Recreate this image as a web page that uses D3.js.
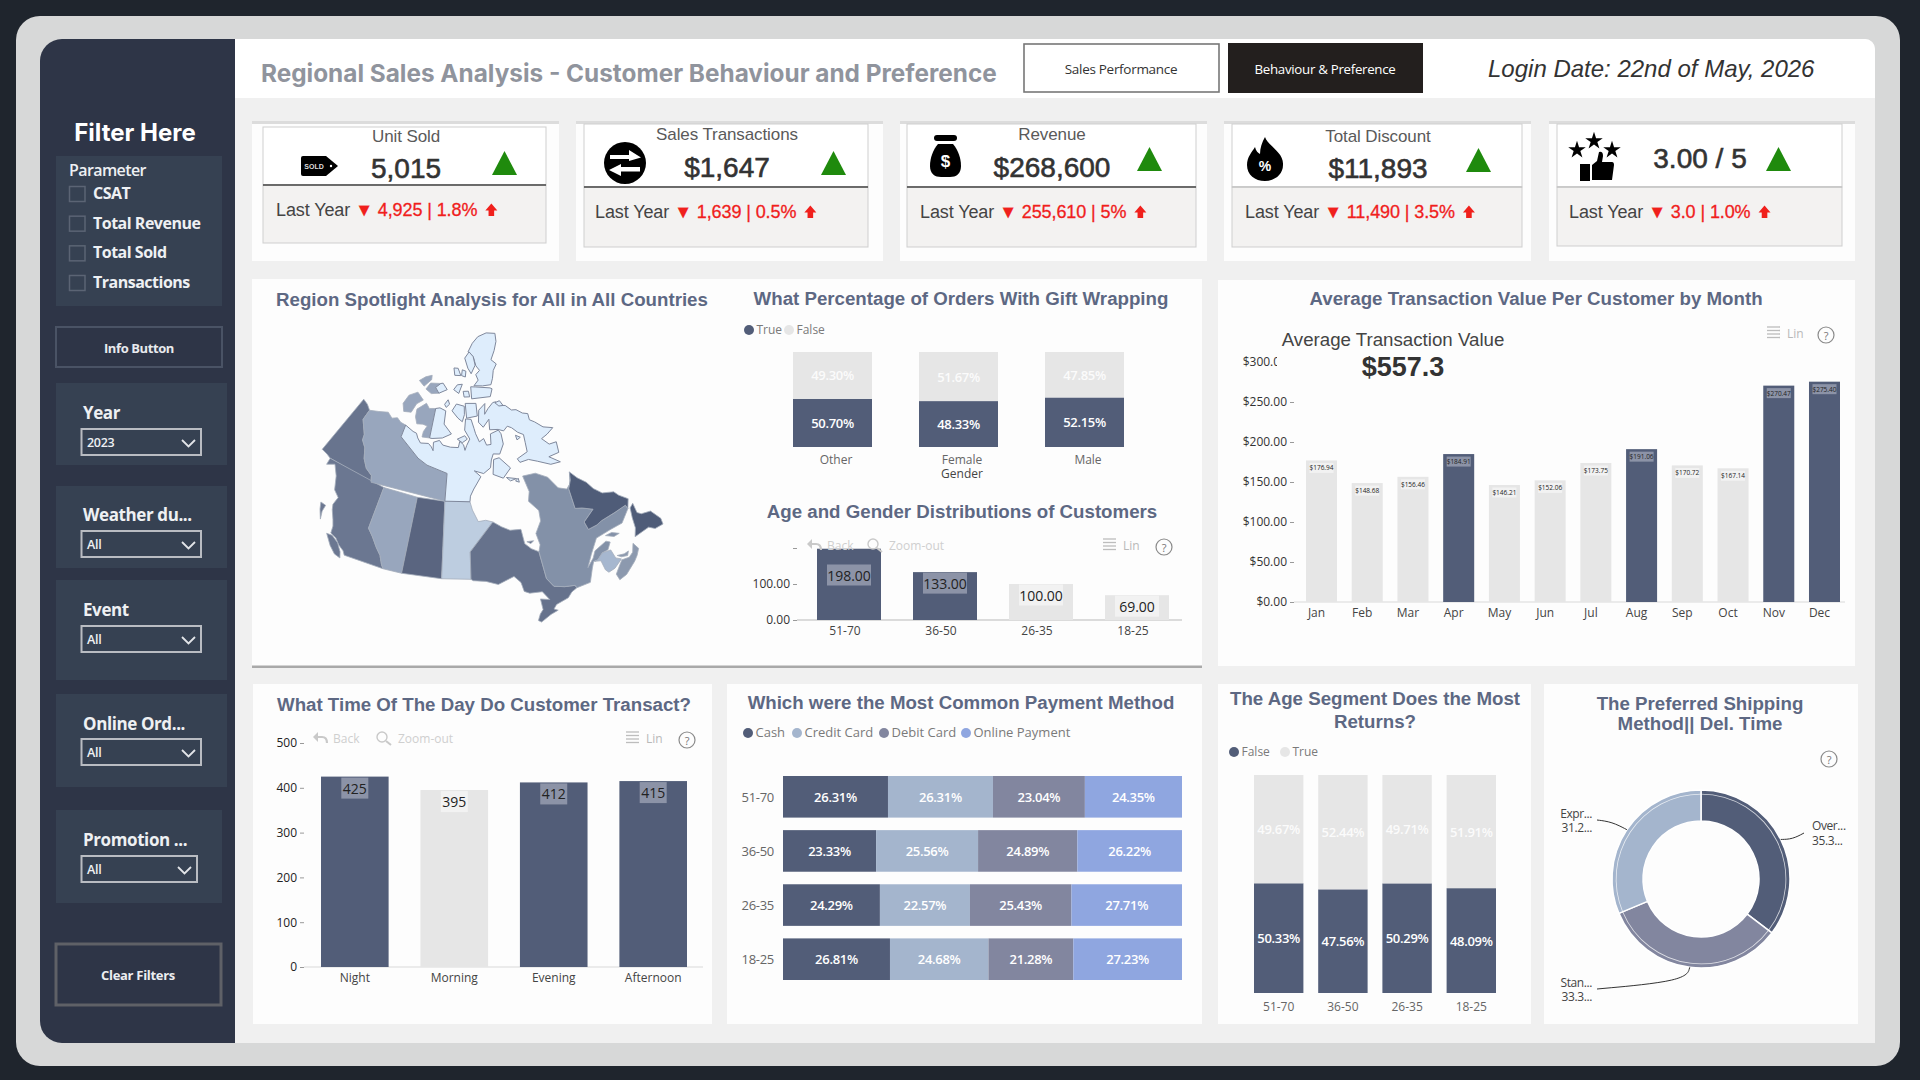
<!DOCTYPE html>
<html lang="en">
<head>
<meta charset="utf-8">
<title>Regional Sales Analysis</title>
<script src="https://cdn.jsdelivr.net/npm/d3@7/dist/d3.min.js"></script>
<style>
  html, body { margin: 0; padding: 0; background: #1f252d; }
  svg { display: block; }
  text { font-family: "Liberation Sans", "DejaVu Sans", sans-serif; }
  .ui text, text.ui { font-family: "Open Sans", "Noto Sans", sans-serif; }
</style>
</head>
<body>
<script>
// ---- KPI values -----------------------------------------------------------
const kpiTitles = ["Unit Sold", "Sales Transactions", "Revenue", "Total Discount", ""];
const kpiValues = ["5,015", "$1,647", "$268,600", "$11,893", "3.00 / 5"];
const kpiLastYear = ["4,925", "1,639", "255,610", "11,490", "3.0"];
const kpiChange = ["1.8%", "0.5%", "5%", "3.5%", "1.0%"];

// ---- Filter pane ----------------------------------------------------------
const parameterOptions = ["CSAT", "Total Revenue", "Total Sold", "Transactions"];
const slicerNames = ["Year", "Weather du...", "Event", "Online Ord...", "Promotion ..."];
const slicerChoices = ["2023", "All", "All", "All", "All"];

// ---- Gift wrapping by gender ----------------------------------------------
const genders = ["Other", "Female", "Male"];
const giftTrue = [50.70, 48.33, 52.15];
const giftFalse = [49.30, 51.67, 47.85];

// ---- Customers by age -----------------------------------------------------
const ageBands = ["51-70", "36-50", "26-35", "18-25"];
const customersByAge = [198, 133, 100, 69];

// ---- Average transaction value per month ---------------------------------
const months = ["Jan", "Feb", "Mar", "Apr", "May", "Jun", "Jul", "Aug", "Sep", "Oct", "Nov", "Dec"];
const monthlyValue = [176.94, 148.68, 156.46, 184.91, 146.21, 152.06, 173.75, 191.06, 170.72, 167.14, 270.47, 275.40];

// ---- Transactions by time of day ------------------------------------------
const dayParts = ["Night", "Morning", "Evening", "Afternoon"];
const transactionsByPart = [425, 395, 412, 415];

// ---- Payment method share by age ------------------------------------------
const paymentMethods = ["Cash", "Credit Card", "Debit Card", "Online Payment"];
const payCash = [26.31, 23.33, 24.29, 26.81];
const payCredit = [26.31, 25.56, 22.57, 24.68];
const payDebit = [23.04, 24.89, 25.43, 21.28];
const payOnline = [24.35, 26.22, 27.71, 27.23];

// ---- Returns by age -------------------------------------------------------
const returnFalse = [50.33, 47.56, 50.29, 48.09];
const returnTrue = [49.67, 52.44, 49.71, 51.91];

// ---- Shipping mix ---------------------------------------------------------
const shippingNames = ["Over...", "Stan...", "Expr..."];
const shippingShare = [35.34, 33.35, 31.31];
const shippingLabels = ["35.3...", "33.3...", "31.2..."];

// ---- Province outlines, longitude / latitude -----------------------------
const yukon = [[-141,69.65],[-141,60.3],[-139,60.2],[-137.6,60],[-124,60],[-124.7,60.9],[-127,61.5],[-129,62.6],[-130.5,64],[-132.5,64.8],[-133,65.6],[-136.4,67.3],[-136.4,68.9],[-138.5,69.4]];
const britishColumbia = [[-137.6,60],[-120,60],[-120,53.8],[-118.5,52.9],[-116.8,51.6],[-115.5,50.7],[-114.6,49.5],[-114.06,49],[-122.8,49],[-123.4,49.5],[-124.8,50],[-126,50.7],[-127.5,51],[-127.8,52],[-128.5,52.8],[-129.8,54],[-130.3,54.7],[-130,55.9],[-131.8,56.6],[-133.4,58.4],[-135.5,59.7],[-137.4,59]];
const vancouverIsland = [[-123.4,48.4],[-124.8,48.6],[-126.4,49.4],[-128.3,50.7],[-127,50.8],[-125.2,50.2],[-123.9,49.2]];
const haidaGwaii = [[-131.1,52],[-132.4,53.2],[-133.1,54.1],[-131.7,54.05],[-131.7,53.1]];
const alberta = [[-120,60],[-110,60],[-110,49],[-114.06,49],[-114.6,49.5],[-115.5,50.7],[-116.8,51.6],[-118.5,52.9],[-120,53.8]];
const saskatchewan = [[-110,60],[-102,60],[-101.4,49],[-110,49]];
const manitoba = [[-102,60],[-94.8,60],[-94.2,58.8],[-92.8,57.1],[-90.8,57.2],[-89,56.85],[-95.15,52.85],[-95.15,49],[-101.4,49]];
const ontario = [[-89,56.85],[-87,56],[-85,55.3],[-82.3,55.1],[-82.2,53],[-81,52.1],[-79.5,51.4],[-79.5,47.5],[-78.5,46.2],[-76.5,45.7],[-74.5,45.4],[-74.3,45],[-75.5,44.7],[-76.5,44.1],[-79,43.7],[-79.7,43.2],[-79,42.9],[-80.5,42.6],[-82.5,41.9],[-83,42.2],[-82.4,43],[-81.7,43.5],[-81.7,45],[-80,44.6],[-81,45.9],[-83.5,46.1],[-84.5,46.5],[-84.8,47.8],[-86,48.8],[-88.3,48.3],[-89.5,48],[-92,48.6],[-94.7,48.8],[-95.15,49],[-95.15,52.85]];
const quebec = [[-79.5,51.4],[-78.8,52.3],[-79,54],[-77,55.5],[-76.6,57],[-78.5,58.7],[-77.5,60],[-78,62.4],[-74,62.2],[-71,61],[-69.5,59],[-67.5,58.3],[-66,58.8],[-64.6,60.3],[-65.5,59.2],[-67,58.2],[-67.8,55.3],[-66.2,54.9],[-64,54],[-67.3,53],[-67.2,51.8],[-65,51.8],[-63.6,52],[-60,52],[-57.1,52],[-57.1,51.4],[-60,50.2],[-63,50.3],[-66.5,50.2],[-69,48.5],[-70.8,47],[-69,47.9],[-68,48.7],[-65,49.2],[-64.3,48.8],[-65.5,48],[-66.8,48],[-68.3,47.4],[-69.2,47.45],[-70,46.7],[-71.5,45],[-74.3,45],[-74.5,45.4],[-76.5,45.7],[-78.5,46.2],[-79.5,47.5]];
const anticosti = [[-64.5,49.9],[-63,49.85],[-61.7,49.2],[-63,49.2]];
const labrador = [[-64.6,60.3],[-63.5,59],[-62,57.8],[-61.3,56.5],[-60,55.3],[-57.5,54.5],[-57,53.7],[-55.7,52.5],[-57.1,51.4],[-57.1,52],[-60,52],[-63.6,52],[-65,51.8],[-67.2,51.8],[-67.3,53],[-64,54],[-66.2,54.9],[-67.8,55.3],[-67,58.2],[-65.5,59.2]];
const newfoundland = [[-59.3,47.6],[-58.2,48.6],[-57.5,50],[-56.6,51.3],[-55.5,51.6],[-56,50.2],[-55.4,49.7],[-53.5,49.2],[-52.8,47.5],[-53.2,46.7],[-55,46.9],[-55.9,47.6]];
const newBrunswick = [[-69,47.4],[-68.3,47.4],[-66.8,48],[-65,47.8],[-64.9,46.5],[-64,46],[-66,45.3],[-67.4,45.2],[-67.8,45.7],[-67.8,47.1]];
const novaScotia = [[-66.2,43.6],[-64.6,43.8],[-62,44.8],[-61,45.3],[-60,46],[-60.4,47],[-61.4,46],[-62.5,45.65],[-64,45.85],[-65,45.3],[-66.3,44.5]];
const princeEdward = [[-64.4,46.7],[-63,46.4],[-62,46.45],[-62.6,45.97],[-63.8,46.25]];
const northwest = [[-136.4,68.9],[-133,69.5],[-129.5,70.1],[-127,69.6],[-125,70],[-123,69.6],[-120.7,69.5],[-120.7,67.7],[-112.5,65.5],[-109,64.8],[-102,64],[-102,60],[-124,60],[-124.7,60.9],[-127,61.5],[-129,62.6],[-130.5,64],[-132.5,64.8],[-133,65.6],[-136.4,67.3]];
const banksIsland = [[-123.7,71.2],[-125.5,72.2],[-124.6,73.6],[-121,74.5],[-117,73.7],[-119.5,72.9],[-120.5,71.5]];
const victoriaWest = [[-110,73],[-113,72.8],[-115,73.4],[-118.5,72.2],[-118,71.1],[-116.5,70.2],[-114,70.4],[-112,70.3],[-113,69.4],[-113,68.6],[-110,68.7],[-110,70]];
const melvilleWest = [[-110,75.2],[-114,74.9],[-117.5,75.3],[-116,76.3],[-110,76.6],[-112.5,75.9]];
const princePatrick = [[-122.7,76.1],[-119,75.6],[-116,76.8],[-116.5,77.4],[-120,76.9]];
const nunavut = [[-120.7,69.5],[-117,69],[-115.5,68.9],[-114.5,68.3],[-113,67.7],[-110,67.9],[-108.7,67.5],[-107.8,67],[-108.2,68.2],[-106,68.6],[-104.5,68],[-101.5,67.8],[-98.5,67.8],[-98,68.7],[-96.5,68.2],[-96,67.4],[-95.3,68.1],[-94,69],[-96,70.3],[-95.5,71.9],[-93,71.8],[-92,70.5],[-91.5,69.7],[-90.3,68.5],[-88.5,68.9],[-87.7,67.9],[-86,67.9],[-85.5,69.4],[-82,69.7],[-81.3,69.1],[-81.4,67.6],[-83.5,66.3],[-85.8,66.5],[-86.8,65.7],[-87.5,64.6],[-90,63.9],[-93,64.4],[-91,63.5],[-92.5,62.5],[-93.5,61.8],[-94.6,60.8],[-94.8,60],[-102,60],[-102,64],[-109,64.8],[-112.5,65.5],[-120.7,67.7]];
const baffin = [[-80,73.7],[-78,73],[-76,72.8],[-74,71.9],[-72,71.7],[-70,70.9],[-68,70.5],[-68.5,69.6],[-67,69],[-65,67.8],[-62,67],[-65,66.6],[-67.5,66.4],[-66,65.2],[-63.5,65],[-64.5,63.5],[-68,63.6],[-65.5,62.2],[-68.5,62.5],[-72,63.7],[-74.5,64.4],[-77.5,64.4],[-78,65],[-74,65.5],[-73.5,66.8],[-73,68],[-74.8,68.6],[-76.5,69.5],[-78,69.9],[-80,69.4],[-82,69.8],[-85.5,70],[-85,71.5],[-88,70.5],[-89.8,71.3],[-89,73],[-85.5,73.8],[-86.5,72.3],[-84.5,73],[-81.5,73.7]];
const ellesmere = [[-90,76.5],[-85,76.3],[-80,76.2],[-78,77],[-76,78],[-72.5,78.7],[-75,79.5],[-70,80.5],[-65,81.5],[-62,82.5],[-70,83.1],[-80,83],[-87,82.3],[-92,81.2],[-88,80.5],[-87,79.2],[-85,78.5],[-88,78],[-87,77.2]];
const devon = [[-80,75.6],[-82,74.6],[-92,74.7],[-92,76.4],[-89,76.3],[-81,75.8]];
const axelHeiberg = [[-95,80.4],[-91,81.2],[-88,80.5],[-87.5,79.3],[-91,78.2],[-93,79]];
const cornwallis = [[-93,75],[-96,75],[-96.5,75.8],[-93.5,75.8]];
const bathurst = [[-97,76.8],[-99,75.5],[-102,76],[-100,76.7]];
const melvilleEast = [[-105.7,75.9],[-110,75.2],[-112.5,75.9],[-110,76.6],[-108.7,76.7]];
const ellefRingnes = [[-98,78],[-102,78],[-103,79],[-100,79]];
const amundRingnes = [[-95,77.8],[-97.5,78],[-97,78.8],[-94.5,78.6]];
const prinWales = [[-97,71.5],[-99,72],[-102,73],[-100,74],[-96,73.7],[-96,72.5]];
const somerset = [[-90,72.2],[-95,72],[-95.5,74.1],[-90,74]];
const victoriaEast = [[-105,72.9],[-108,73.2],[-110,73],[-110,70],[-110,68.7],[-109,68.7],[-105,69],[-101.5,69.7],[-105,71]];
const stefansson = [[-105,73.4],[-106,73.8],[-104.5,74.5],[-103.5,73.9]];
const southampton = [[-87,63.6],[-84,62.8],[-81,64],[-84,65.8],[-86,65.7]];
const coats = [[-83,62.8],[-80,62.3],[-82,62.2]];
const kingWilliam = [[-99,69],[-96,69.5],[-95,69],[-97,68.5]];
const princeCharles = [[-76,67.6],[-74.5,67.8],[-76,68.3]];
const bylot = [[-79,73],[-77,72.9],[-78,73.7],[-80.5,73.6]];
const mansel = [[-80.5,62],[-79.5,61.7],[-79.5,62.3]];
const akimiski = [[-81.6,53.2],[-80,53.1],[-80.8,52.8]];

// Fill of each region; Nunavut stays palest, the rest follow their totals
const PALE_REGION = "#deedfc";
const provinces = [
  { rings: [yukon], fill: "#68748e" },
  { rings: [britishColumbia, vancouverIsland, haidaGwaii], fill: "#6b7791" },
  { rings: [alberta], fill: "#98a6bd" },
  { rings: [saskatchewan], fill: "#5a6580" },
  { rings: [manitoba], fill: "#bdcde0" },
  { rings: [ontario], fill: "#66728c" },
  { rings: [quebec, anticosti], fill: "#8391a8" },
  { rings: [labrador, newfoundland], fill: "#4f5c78" },
  { rings: [newBrunswick], fill: "#a6b7cf" },
  { rings: [novaScotia, princeEdward], fill: "#8c99ae" },
  { rings: [northwest, banksIsland, victoriaWest, melvilleWest, princePatrick], fill: "#98a6bd" },
  { rings: [nunavut, baffin, ellesmere, devon, axelHeiberg, cornwallis, bathurst, melvilleEast, ellefRingnes, amundRingnes, prinWales, somerset, victoriaEast, stefansson, southampton, coats, kingWilliam, princeCharles, bylot, mansel], fill: PALE_REGION },
  { rings: [akimiski], fill: "#66728c" }
];

// ---- Palette --------------------------------------------------------------
const NAVY = "#525d78", PALE = "#e6e6e6", TITLE = "#5d6883", RED = "#f0201c", GREEN = "#1f8a0d";
const BOX_DARK = "#8c93a7", BOX_LIGHT = "#f2f2f2";
const payColors = [NAVY, "#a4b5cd", "#82869f", "#8fa6e0"];
const shipColors = [NAVY, "#82869f", "#a4b5cd"];

const svg = d3.select("body").append("svg").attr("width", 1920).attr("height", 1080);

function rect(g, x0, y0, x1, y1, fill, stroke, sw, rx) {
  return g.append("rect").attr("x", x0).attr("y", y0).attr("width", x1 - x0).attr("height", y1 - y0)
    .attr("fill", fill).attr("stroke", stroke || "none").attr("stroke-width", sw || 0).attr("rx", rx || 0);
}
function label(g, x, y, str, o = {}) {
  const t = g.append("text").attr("x", x).attr("y", y).attr("dominant-baseline", "central")
    .attr("text-anchor", o.anchor || "start").attr("font-size", o.size || 12)
    .attr("font-weight", o.weight || 400).attr("fill", o.fill || "#444").text(str);
  if (o.family) t.style("font-family", o.family);
  if (o.italic) t.attr("font-style", "italic");
  if (o.spacing) t.attr("letter-spacing", o.spacing);
  if (o.wordSpacing) t.attr("word-spacing", o.wordSpacing);
  return t;
}
const UI = '"Open Sans", "Noto Sans", sans-serif';
const INTER = 'Inter, "Liberation Sans", sans-serif';

// ---- Frame ----------------------------------------------------------------
rect(svg, 0, 0, 1920, 1080, "#1f252d");
rect(svg, 16, 16, 1900, 1066, "#d7d8d8", null, 0, 24);
svg.append("path").attr("fill", "#f0f0f0")
  .attr("d", "M235,39 H1865 a10,10 0 0 1 10,10 V1043 H235 Z");
svg.append("path").attr("fill", "#ffffff")
  .attr("d", "M235,39 H1865 a10,10 0 0 1 10,10 V98 H235 Z");
svg.append("path").attr("fill", "#2e3547")
  .attr("d", "M62,39 H235 V1043 H62 a22,22 0 0 1 -22,-22 V61 a22,22 0 0 1 22,-22 Z");

// ---- Header ---------------------------------------------------------------
label(svg, 261, 73, "Regional Sales Analysis - Customer Behaviour and Preference",
  { size: 24.35, weight: 700, fill: "#90949d", family: INTER });
rect(svg, 1024, 44, 1219, 92, "#fff", "#777", 1.6);
label(svg, 1121, 69, "Sales Performance", { size: 13.5, anchor: "middle", fill: "#333", family: UI, spacing: -0.3 });
rect(svg, 1228, 43, 1423, 93, "#231f1e");
label(svg, 1325, 69, "Behaviour & Preference", { size: 13.3, anchor: "middle", fill: "#fff", family: UI, spacing: -0.3 });
label(svg, 1488, 68, "Login Date: 22nd of May, 2026", { size: 24, italic: true, fill: "#333" });

// ---- Filter pane ----------------------------------------------------------
const pane = svg.append("g");
label(pane, 135, 132, "Filter Here", { size: 24, weight: 700, fill: "#fff", anchor: "middle", family: INTER });
rect(pane, 56, 156, 222, 306, "#364152");
label(pane, 69, 170, "Parameter", { size: 16, weight: 600, fill: "#eef0f3", family: UI, spacing: -0.6 });
const optionY = d3.scalePoint().domain(parameterOptions).range([194, 283]);
parameterOptions.forEach(o => {
  rect(pane, 69.5, optionY(o) - 7.5, 85, optionY(o) + 7.5, "none", "#5b6474", 1.5);
  label(pane, 93, optionY(o) - 1, o, { size: 16, weight: 700, fill: "#eef0f3", family: UI, spacing: -0.5 });
});
rect(pane, 56, 327, 222, 367, "#2e3547", "#4a5365", 2);
label(pane, 139, 348, "Info Button", { size: 13, weight: 700, fill: "#e8eaee", anchor: "middle", family: UI, spacing: -0.4 });

const slicerPanels = [[56, 227, 383, 465, 412, 429, 201], [56, 227, 486, 568, 514, 531, 201], [56, 227, 580, 680, 609, 626, 201],
  [56, 227, 694, 787, 723, 739, 201], [56, 222, 810, 903, 839, 856, 197]];
slicerNames.forEach((name, i) => {
  const [x0, x1, y0, y1, ly, dy, dx] = slicerPanels[i];
  rect(pane, x0, y0, x1, y1, "#364152");
  label(pane, 83, ly, name, { size: 17, weight: 700, fill: "#eef0f3", family: UI, spacing: -0.4 });
  rect(pane, 81.5, dy, dx, dy + 26, "none", "#b9bcc2", 2);
  label(pane, 87, dy + 13, slicerChoices[i], { size: 12.5, weight: 600, fill: "#eef0f3", family: UI, spacing: -0.3 });
  pane.append("path").attr("fill", "none").attr("stroke", "#e2e4e8").attr("stroke-width", 1.8)
    .attr("d", `M${dx - 19},${dy + 11} l6.5,6.5 l6.5,-6.5`);
});
rect(pane, 56, 944, 221, 1005, "#2e3547", "#5f6167", 3);
label(pane, 138, 975, "Clear Filters", { size: 13, weight: 700, fill: "#eceef1", anchor: "middle", family: UI, spacing: -0.3 });

// ---- KPI cards ------------------------------------------------------------
const cardFrames = [
  { ox: [252, 559], ix: [263, 546], y: [127, 243], d: 185, dc: "#444", tx: 406, ty: 136, vy: 168, tri: [492, 151], lx: 276, ly: 210 },
  { ox: [576, 883], ix: [584, 868], y: [124, 247], d: 187, dc: "#444", tx: 727, ty: 134, vy: 167, tri: [821, 151], lx: 595, ly: 212 },
  { ox: [900, 1207], ix: [907, 1196], y: [124, 247], d: 187, dc: "#444", tx: 1052, ty: 134, vy: 167, tri: [1137, 147], lx: 920, ly: 212 },
  { ox: [1224, 1531], ix: [1232, 1522], y: [124, 247], d: 187, dc: "#c4c4c4", tx: 1378, ty: 136, vy: 168, tri: [1466, 148], lx: 1245, ly: 212 },
  { ox: [1549, 1855], ix: [1557, 1842], y: [124, 246], d: 187, dc: "#c4c4c4", tx: 1700, ty: 136, vy: 158, tri: [1766, 147], lx: 1569, ly: 212 }
];
kpiValues.forEach((value, i) => {
  const c = cardFrames[i], g = svg.append("g");
  rect(g, c.ox[0], 121, c.ox[1], 261, "#fdfdfd");
  rect(g, c.ox[0], 121, c.ox[1], 124, "#dcdcdc");
  rect(g, c.ix[0], c.y[0], c.ix[1], c.d, "#fff", "#cfcfcf", 1);
  rect(g, c.ix[0], c.d, c.ix[1], c.y[1], "#f3f2f1", "#cfcfcf", 1);
  g.append("line").attr("x1", c.ix[0]).attr("x2", c.ix[1]).attr("y1", c.d).attr("y2", c.d).attr("stroke", c.dc).attr("stroke-width", 1.5);
  if (kpiTitles[i]) label(g, c.tx, c.ty, kpiTitles[i], { size: 17, fill: "#5a5a5a", anchor: "middle", spacing: -0.1 });
  label(g, c.tx, c.vy, value, { size: 28, fill: "#333", anchor: "middle" })
    .attr("stroke", "#333").attr("stroke-width", 0.6);
  g.append("path").attr("fill", GREEN).attr("d", `M${c.tri[0] + 12.5},${c.tri[1]} L${c.tri[0] + 25},${c.tri[1] + 24} H${c.tri[0]} Z`);

  const row = label(g, c.lx, c.ly, "Last Year", { size: 18, fill: "#444", spacing: -0.1 });
  row.append("tspan").attr("fill", RED).attr("dx", 5).attr("font-size", 18).attr("stroke", RED).attr("stroke-width", 0.3)
    .text(`▼ ${kpiLastYear[i]} | ${kpiChange[i]}`);
  const end = c.lx + row.node().getComputedTextLength() + 13;
  g.append("path").attr("fill", RED)
    .attr("d", `M${end + 6},${c.ly - 6.5} l6,7 h-3.2 v5.5 h-5.6 v-5.5 h-3.2 Z`);
});

// Card icons
const icons = svg.append("g");
icons.append("path").attr("fill", "#000").attr("d", "M303,156 H326 L338,166 L326,176 H303 q-2,0 -2,-2 V158 q0,-2 2,-2 Z");
label(icons, 314, 166, "SOLD", { size: 7, weight: 700, fill: "#ddd", anchor: "middle" });
icons.append("circle").attr("cx", 331).attr("cy", 166).attr("r", 1.2).attr("fill", "#fff");

icons.append("circle").attr("cx", 625).attr("cy", 163).attr("r", 21).attr("fill", "#000");
icons.append("path").attr("fill", "#fff")
  .attr("d", "M610,155 H629 V150 L641,157.5 L629,161 V159 H610 Z M640,167 H621 V164 L609,170 L621,176 V171.5 H640 Z");

icons.append("rect").attr("x", 934).attr("y", 135).attr("width", 23).attr("height", 6).attr("rx", 3).attr("fill", "#000");
icons.append("path").attr("fill", "#000")
  .attr("d", "M938,144 H953 C958,150 961,158 961,166 C961,174 956,177 950,177 H941 C935,177 930,174 930,166 C930,158 933,150 938,144 Z");
label(icons, 945.5, 161, "$", { size: 17, weight: 700, fill: "#fff", anchor: "middle" });

icons.append("path").attr("fill", "#000")
  .attr("d", "M1265,137 C1268,146 1284,152 1283,165 C1283,175 1274,181 1265,181 C1255,181 1247,175 1247,165 C1247,157 1252,152 1255,147 C1256,151 1258,153 1260,154 C1260,148 1262,142 1265,137 Z");
label(icons, 1265, 166, "%", { size: 14, weight: 700, fill: "#fff", anchor: "middle" });

const starPath = d3.symbol().type(d3.symbolStar);
[[1594, 141, 95], [1577, 150, 95], [1612, 150, 95]].forEach(([x, y, s]) =>
  icons.append("path").attr("fill", "#000").attr("transform", `translate(${x},${y})`).attr("d", starPath.size(s)()));
icons.append("rect").attr("x", 1580).attr("y", 164).attr("width", 10).attr("height", 17).attr("fill", "#000");
icons.append("path").attr("fill", "#000")
  .attr("d", "M1592,165 L1597,161 L1599,152 q4,-1 4,4 L1602,162 H1612 q2,0 2,3 L1612,180 H1592 Z");

// ---- Chart panels ---------------------------------------------------------
rect(svg, 252, 279, 1202, 668, "#a9a9a9");
rect(svg, 252, 279, 1202, 665.5, "#fdfdfd");
rect(svg, 1218, 280, 1855, 666, "#fdfdfd");
rect(svg, 253, 684, 712, 1024, "#fdfdfd");
rect(svg, 727, 684, 1202, 1024, "#fdfdfd");
rect(svg, 1218, 684, 1531, 1024, "#fdfdfd");
rect(svg, 1544, 684, 1858, 1024, "#fdfdfd");

function title(x, y, str, anchor = "middle") {
  return label(svg, x, y, str, { size: 18.7, weight: 700, fill: TITLE, anchor });
}
title(276, 299, "Region Spotlight Analysis for All in All Countries", "start");
title(961, 298, "What Percentage of Orders With Gift Wrapping");
title(962, 511, "Age and Gender Distributions of Customers");
title(1536, 298, "Average Transaction Value Per Customer by Month");
title(484, 704, "What Time Of The Day Do Customer Transact?");
title(961, 702, "Which were the Most Common Payment Method");
title(1375, 698, "The Age Segment Does the Most");
title(1375, 721, "Returns?");
title(1700, 703, "The Preferred Shipping");
title(1700, 723, "Method|| Del. Time");

// Toolbar strip that sits on the interactive charts
function toolbar(cfg) {
  const g = svg.append("g").attr("fill", "none").attr("stroke", "#c9c9c9");
  if (cfg.back) {
    const x = cfg.back, y = cfg.y;
    g.append("path").attr("stroke-width", 2.2).attr("d", `M${x + 3},${y - 1} H${x + 9} q5,0 5,6`);
    g.append("path").attr("fill", "#c9c9c9").attr("stroke", "none").attr("d", `M${x},${y - 1} l5,-5 v10 Z`);
    label(svg, x + 20, y, "Back", { size: 12, fill: "#cfcfcf", family: UI });
    const z = cfg.zoom;
    g.append("circle").attr("cx", z + 5).attr("cy", y - 1).attr("r", 5).attr("stroke-width", 1.4);
    g.append("line").attr("x1", z + 9).attr("y1", y + 3).attr("x2", z + 14).attr("y2", y + 7).attr("stroke-width", 2);
    label(svg, z + 21, y, "Zoom-out", { size: 12, fill: "#cfcfcf", family: UI });
  }
  if (cfg.lin) {
    [-6, -2.5, 1, 4.5].forEach(d => g.append("line").attr("x1", cfg.lin).attr("x2", cfg.lin + 13)
      .attr("y1", cfg.y + d).attr("y2", cfg.y + d).attr("stroke", "#bdbdbd").attr("stroke-width", 1.3));
    label(svg, cfg.lin + 20, cfg.y, "Lin", { size: 12, fill: "#b9b9b9", family: UI });
  }
  g.append("circle").attr("cx", cfg.help).attr("cy", cfg.helpY || cfg.y + 2).attr("r", 8).attr("stroke", "#8a8a8a").attr("stroke-width", 1.2);
  label(svg, cfg.help, cfg.helpY || cfg.y + 2, "?", { size: 11, fill: "#777", anchor: "middle", family: UI });
}

function legend(items) {
  items.forEach(it => {
    svg.append("circle").attr("cx", it.x).attr("cy", it.y + 1).attr("r", 5).attr("fill", it.color);
    label(svg, it.x + 7.5, it.y, it.text, { size: it.size || 12, fill: "#7a7a7a", family: UI });
  });
}

// Column chart with a value label near the top of each bar; bars above the mean are dark
function columnChart(cfg) {
  const g = svg.append("g").attr("class", "ui");
  const x = d3.scaleBand().domain(cfg.cats).range(cfg.xRange).paddingInner(cfg.padding).paddingOuter(0);
  const y = d3.scaleLinear().domain(cfg.yDomain).range(cfg.yRange);
  const mean = d3.mean(cfg.values);
  const rows = cfg.cats.map((c, i) => ({ c, v: cfg.values[i] }));

  const axisY = d3.axisLeft(y).tickValues(cfg.ticks).tickFormat(cfg.tickFormat).tickSize(cfg.tickLen || 4).tickPadding(cfg.tickPad || 3);
  const ga = g.append("g").attr("transform", `translate(${cfg.axisX},0)`).call(axisY);
  ga.select(".domain").remove();
  ga.selectAll("text").attr("font-size", 12).attr("fill", cfg.tickFill || "#333");
  ga.selectAll("line").attr("stroke", "#999");

  g.append("line").attr("x1", cfg.axisX).attr("x2", cfg.baseEnd).attr("y1", y(0)).attr("y2", y(0)).attr("stroke", cfg.baseColor || "#e4e4e4").attr("stroke-width", 1.5);

  g.selectAll("rect.bar").data(rows).join("rect").attr("class", "bar")
    .attr("x", d => x(d.c)).attr("width", x.bandwidth())
    .attr("y", d => y(d.v)).attr("height", d => y(0) - y(d.v))
    .attr("fill", d => d.v >= mean ? NAVY : PALE);

  const axisX = d3.axisBottom(x).tickSize(0).tickPadding(0);
  const gx = g.append("g").attr("transform", `translate(0,${cfg.catY})`).call(axisX);
  gx.select(".domain").remove();
  gx.selectAll("text").attr("font-size", 12).attr("fill", "#444").attr("dy", 0)
    .attr("dominant-baseline", "central").attr("dx", cfg.catDx || 0);

  rows.forEach(d => {
    const cy = Math.max(y(d.v) + cfg.labelGap, cfg.labelMinY || 0);
    const cx = x(d.c) + x.bandwidth() / 2;
    const str = cfg.labelFormat(d.v);
    rect(g, cx - cfg.boxW / 2, cy - cfg.boxH / 2, cx + cfg.boxW / 2, cy + cfg.boxH / 2, d.v >= mean ? BOX_DARK : BOX_LIGHT);
    label(g, cx, cy, str, { size: cfg.labelSize, fill: "#222", anchor: "middle", family: UI });
  });
}

columnChart({
  cats: ageBands, values: customersByAge,
  xRange: [817, 1169], padding: 1 - 64 / 96, yDomain: [0, 100], yRange: [620, 584],
  ticks: [0, 100, 200], tickFormat: v => v === 200 ? "" : d3.format(".2f")(v),
  axisX: 797, baseEnd: 1182, baseColor: "#cfcfcf", catY: 630, catDx: -4,
  labelGap: 11, labelMinY: 575, boxW: 44, boxH: 21, labelSize: 14, labelFormat: d3.format(".2f")
});
toolbar({ back: 807, zoom: 868, lin: 1103, help: 1164, y: 545 });

columnChart({
  cats: months, values: monthlyValue,
  xRange: [1306, 1840], padding: 1 - 31 / 45.7, yDomain: [0, 300], yRange: [602, 362],
  ticks: d3.range(0, 301, 50), tickFormat: d3.format("$.2f"),
  axisX: 1294, baseEnd: 1845, catY: 612, catDx: -5,
  labelGap: 7.5, boxW: 24, boxH: 10, labelSize: 6.5, labelFormat: d3.format("$.2f")
});
rect(svg, 1277, 322, 1527, 387, "#fdfdfd");
label(svg, 1393, 339, "Average Transaction Value", { size: 18.7, fill: "#444", anchor: "middle" });
label(svg, 1403, 367, "$557.3", { size: 27, weight: 700, fill: "#333", anchor: "middle" });
toolbar({ lin: 1767, help: 1826, y: 333 });

columnChart({
  cats: dayParts, values: transactionsByPart,
  xRange: [321, 687], padding: 1 - 67.5 / 99.3, yDomain: [0, 500], yRange: [967, 743],
  ticks: d3.range(0, 501, 100), tickFormat: d3.format("d"),
  axisX: 304, baseEnd: 703, tickFill: "#222", catY: 977, catDx: 0,
  labelGap: 11.5, boxW: 27, boxH: 21, labelSize: 14, labelFormat: d3.format("d")
});
toolbar({ back: 313, zoom: 377, lin: 626, help: 687, y: 738 });

// 100% stacked column helper used for gift wrapping and returns
function stackedColumns(cfg) {
  const g = svg.append("g").attr("class", "ui");
  const x = d3.scaleBand().domain(cfg.cats).range(cfg.xRange).paddingInner(cfg.padding).paddingOuter(0);
  const y = d3.scaleLinear().domain([0, 100]).range(cfg.yRange);
  const rows = cfg.cats.map((c, i) => ({ c, low: cfg.low[i], high: cfg.high[i] }));
  g.selectAll("rect.low").data(rows).join("rect").attr("class", "low")
    .attr("x", d => x(d.c)).attr("width", x.bandwidth()).attr("y", d => y(d.low)).attr("height", d => y(0) - y(d.low)).attr("fill", NAVY);
  g.selectAll("rect.high").data(rows).join("rect").attr("class", "high")
    .attr("x", d => x(d.c)).attr("width", x.bandwidth()).attr("y", y(100)).attr("height", d => y(d.low) - y(100)).attr("fill", PALE);
  const fmt = v => v.toFixed(2) + "%";
  rows.forEach(d => {
    const cx = x(d.c) + x.bandwidth() / 2;
    label(g, cx, (y(0) + y(d.low)) / 2, fmt(d.low), { size: cfg.size, weight: 600, fill: "#fff", anchor: "middle", family: UI, spacing: -0.3 });
    label(g, cx, (y(100) + y(d.low)) / 2, fmt(d.high), { size: cfg.size, weight: 600, fill: "#fbfbfb", anchor: "middle", family: UI, spacing: -0.3 });
    label(g, cx + cfg.catDx, cfg.catY, d.c, { size: 12, fill: "#666", anchor: "middle", family: UI });
  });
}

legend([{ x: 749, y: 329, text: "True", color: NAVY }, { x: 789, y: 329, text: "False", color: PALE }]);
stackedColumns({ cats: genders, low: giftTrue, high: giftFalse, xRange: [793, 1124], padding: 1 - 79 / 126, yRange: [447, 352], size: 13, catDx: 3.5, catY: 459 });
label(svg, 962, 473, "Gender", { size: 12, fill: "#444", anchor: "middle", family: UI });

legend([{ x: 1234, y: 751, text: "False", color: NAVY }, { x: 1285, y: 751, text: "True", color: PALE }]);
stackedColumns({ cats: ageBands, low: returnFalse, high: returnTrue, xRange: [1254, 1496], padding: 1 - 49.4 / 64.2, yRange: [993, 775], size: 13, catDx: 0, catY: 1006 });

// ---- Payment method stacked bars ------------------------------------------
const paySeries = [payCash, payCredit, payDebit, payOnline];
const payRows = ageBands.map((age, i) => {
  const row = { age };
  paymentMethods.forEach((m, k) => { row[m] = paySeries[k][i]; });
  return row;
});
const payStack = d3.stack().keys(paymentMethods)(payRows);
const payX = d3.scaleLinear().domain([0, 100]).range([783, 1182]);
const payY = d3.scaleBand().domain(ageBands).range([776, 980]).paddingInner(12.5 / 54).paddingOuter(0);
const payG = svg.append("g").attr("class", "ui");
payStack.forEach((layer, k) => {
  layer.forEach(seg => {
    const age = seg.data.age;
    const x1 = Math.min(payX(seg[1]), 1182);
    rect(payG, payX(seg[0]), payY(age), x1, payY(age) + payY.bandwidth(), payColors[k]);
    label(payG, (payX(seg[0]) + x1) / 2, payY(age) + payY.bandwidth() / 2, seg.data[layer.key].toFixed(2) + "%",
      { size: 13, weight: 600, fill: "#fff", anchor: "middle", family: UI, spacing: -0.3 });
  });
});
ageBands.forEach(a => label(payG, 774, payY(a) + payY.bandwidth() / 2, a, { size: 13, fill: "#666", anchor: "end", family: UI, spacing: -0.3 }));
legend([
  { x: 748, y: 732, text: paymentMethods[0], color: payColors[0], size: 13 },
  { x: 797, y: 732, text: paymentMethods[1], color: payColors[1], size: 13 },
  { x: 884, y: 732, text: paymentMethods[2], color: payColors[2], size: 13 },
  { x: 966, y: 732, text: paymentMethods[3], color: payColors[3], size: 13 }
]);

// ---- Shipping donut -------------------------------------------------------
const donut = svg.append("g").attr("transform", "translate(1701,879)");
const pie = d3.pie().sort(null)(shippingShare);
const arc = d3.arc().innerRadius(58).outerRadius(89);
const rimInner = d3.arc().innerRadius(84.5).outerRadius(85.3);
donut.selectAll("path.slice").data(pie).join("path").attr("class", "slice")
  .attr("d", arc).attr("fill", (d, i) => shipColors[i]).attr("stroke", "#fff").attr("stroke-width", 1.5);
donut.selectAll("path.rim").data(pie).join("path").attr("class", "rim")
  .attr("d", rimInner).attr("fill", "rgba(255,255,255,0.75)");

const labelSpots = [
  { tx: 1812, ty1: 825, ty2: 840, anchor: "start", end: [1804, 833] },
  { tx: 1592, ty1: 982, ty2: 996, anchor: "end", end: [1597, 989] },
  { tx: 1592, ty1: 813, ty2: 827, anchor: "end", end: [1597, 820] }
];
const leader = d3.line().curve(d3.curveBasis);
pie.forEach((slice, i) => {
  const mid = (slice.startAngle + slice.endAngle) / 2;
  const start = [1701 + 89 * Math.sin(mid), 879 - 89 * Math.cos(mid)];
  const spot = labelSpots[i];
  const ctrl = i === 1 ? [start[0] - 4, spot.end[1] - 8]
    : [(start[0] + spot.end[0]) / 2, (start[1] + spot.end[1]) / 2 + (i === 0 ? 3 : -3)];
  svg.append("path").attr("fill", "none").attr("stroke", "#333").attr("stroke-width", 1)
    .attr("d", leader([start, ctrl, spot.end]));
  label(svg, spot.tx, spot.ty1, shippingNames[i], { size: 12, fill: "#444", anchor: spot.anchor, family: UI, spacing: -0.4 });
  label(svg, spot.tx, spot.ty2, shippingLabels[i], { size: 12, fill: "#444", anchor: spot.anchor, family: UI, spacing: -0.4 });
});
toolbar({ help: 1829, helpY: 759, y: 759 });

// ---- Province map ---------------------------------------------------------
const allPoints = provinces.flatMap(p => p.rings.flat());
const projection = d3.geoConicConformal().parallels([49, 77]).rotate([97, 0])
  .fitExtent([[320, 332], [663, 623]], { type: "MultiPoint", coordinates: allPoints });
const ringPath = d3.line().curve(d3.curveLinearClosed);
const mapG = svg.append("g");
provinces.forEach(p => {
  mapG.selectAll(null).data(p.rings).join("path")
    .attr("d", ring => ringPath(ring.map(projection)))
    .attr("fill", p.fill).attr("stroke", p.fill === PALE_REGION ? "#7f889c" : "#a5adbb")
    .attr("stroke-width", p.fill === PALE_REGION ? 1 : 0.8).attr("stroke-linejoin", "round");
});
</script>
</body>
</html>
